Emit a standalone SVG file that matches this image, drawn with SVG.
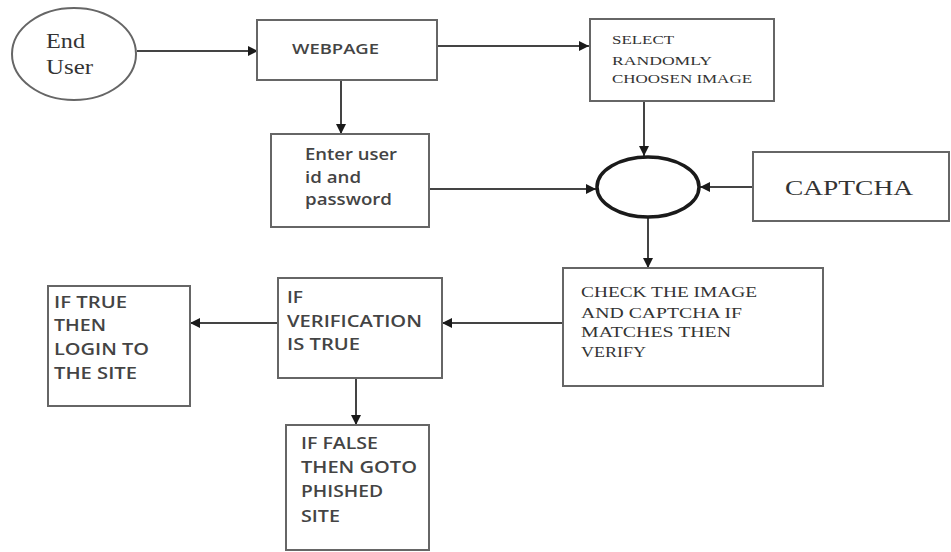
<svg xmlns="http://www.w3.org/2000/svg" width="951" height="552" viewBox="0 0 951 552">
<defs>
<marker id="ah" viewBox="0 0 10 10" refX="10" refY="5" markerWidth="10" markerHeight="10" markerUnits="userSpaceOnUse" orient="auto">
<path d="M0,0 L10,5 L0,10 z" fill="#1a1a1a"/>
</marker>
<style>
.box{fill:#fff;stroke:#666;stroke-width:2}
.conn{stroke:#444;stroke-width:2;fill:none}
.serif{font-family:"Liberation Serif","Times New Roman",serif;fill:#333}
.sans{font-family:"Open Sans","Liberation Sans",sans-serif;fill:#444;font-weight:600}
</style>
</defs>
<rect width="951" height="552" fill="#fff"/>
<g id="connectors">
<line class="conn" x1="137" y1="51" x2="258" y2="51" marker-end="url(#ah)"/>
<line class="conn" x1="437" y1="46" x2="589" y2="46" marker-end="url(#ah)"/>
<line class="conn" x1="341" y1="80" x2="341" y2="134" marker-end="url(#ah)"/>
<line class="conn" x1="644" y1="101" x2="644" y2="156" marker-end="url(#ah)"/>
<line class="conn" x1="429" y1="189" x2="596" y2="189" marker-end="url(#ah)"/>
<line class="conn" x1="753" y1="187" x2="700" y2="187" marker-end="url(#ah)"/>
<line class="conn" x1="648" y1="218" x2="648" y2="268" marker-end="url(#ah)"/>
<line class="conn" x1="563" y1="323" x2="442" y2="323" marker-end="url(#ah)"/>
<line class="conn" x1="278" y1="323" x2="190" y2="323" marker-end="url(#ah)"/>
<line class="conn" x1="356" y1="378" x2="356" y2="425" marker-end="url(#ah)"/>
</g>
<g id="end-user">
<ellipse cx="74" cy="54" rx="62" ry="46" fill="#fff" stroke="#666" stroke-width="2"/>
<text class="serif" x="46" y="48" font-size="22" textLength="39" lengthAdjust="spacingAndGlyphs">End</text>
<text class="serif" x="46" y="74" font-size="22" textLength="47" lengthAdjust="spacingAndGlyphs">User</text>
</g>
<g id="webpage">
<rect class="box" x="257" y="20" width="180" height="60"/>
<text class="sans" x="292" y="54" font-size="15" textLength="87" lengthAdjust="spacingAndGlyphs">WEBPAGE</text>
</g>
<g id="select-image">
<rect class="box" x="590" y="19" width="184" height="82"/>
<text class="serif" x="612" y="44" font-size="13" textLength="62" lengthAdjust="spacingAndGlyphs">SELECT</text>
<text class="serif" x="612" y="65" font-size="13" textLength="100" lengthAdjust="spacingAndGlyphs">RANDOMLY</text>
<text class="serif" x="612" y="83" font-size="13" textLength="140" lengthAdjust="spacingAndGlyphs">CHOOSEN IMAGE</text>
</g>
<g id="enter-user">
<rect class="box" x="271" y="134" width="158" height="93"/>
<text class="sans" x="305" y="160" font-size="16" textLength="92" lengthAdjust="spacingAndGlyphs">Enter user</text>
<text class="sans" x="305" y="183" font-size="16" textLength="56" lengthAdjust="spacingAndGlyphs">id and</text>
<text class="sans" x="305" y="205" font-size="16" textLength="87" lengthAdjust="spacingAndGlyphs">password</text>
</g>
<g id="compare">
<ellipse cx="648" cy="187" rx="51" ry="30" fill="#fff" stroke="#1a1a1a" stroke-width="3.5"/>
</g>
<g id="captcha">
<rect class="box" x="753" y="152" width="196" height="69"/>
<text class="serif" x="785" y="195" font-size="20" textLength="128" lengthAdjust="spacingAndGlyphs">CAPTCHA</text>
</g>
<g id="check">
<rect class="box" x="563" y="268" width="260" height="118"/>
<text class="serif" x="581" y="297" font-size="15" textLength="176" lengthAdjust="spacingAndGlyphs">CHECK THE IMAGE</text>
<text class="serif" x="581" y="318" font-size="15" textLength="161" lengthAdjust="spacingAndGlyphs">AND CAPTCHA IF</text>
<text class="serif" x="581" y="337" font-size="15" textLength="150" lengthAdjust="spacingAndGlyphs">MATCHES THEN</text>
<text class="serif" x="581" y="357" font-size="15" textLength="65" lengthAdjust="spacingAndGlyphs">VERIFY</text>
</g>
<g id="verification">
<rect class="box" x="278" y="278" width="164" height="100"/>
<text class="sans" x="287" y="303" font-size="17" textLength="16" lengthAdjust="spacingAndGlyphs">IF</text>
<text class="sans" x="287" y="327" font-size="17" textLength="135" lengthAdjust="spacingAndGlyphs">VERIFICATION</text>
<text class="sans" x="287" y="350" font-size="17" textLength="73" lengthAdjust="spacingAndGlyphs">IS TRUE</text>
</g>
<g id="if-true">
<rect class="box" x="48" y="286" width="142" height="120"/>
<text class="sans" x="54" y="308" font-size="17" textLength="73" lengthAdjust="spacingAndGlyphs">IF TRUE</text>
<text class="sans" x="54" y="331" font-size="17" textLength="52" lengthAdjust="spacingAndGlyphs">THEN</text>
<text class="sans" x="54" y="355" font-size="17" textLength="95" lengthAdjust="spacingAndGlyphs">LOGIN TO</text>
<text class="sans" x="54" y="379" font-size="17" textLength="83" lengthAdjust="spacingAndGlyphs">THE SITE</text>
</g>
<g id="if-false">
<rect class="box" x="286" y="425" width="143" height="125"/>
<text class="sans" x="301" y="449" font-size="17" textLength="77" lengthAdjust="spacingAndGlyphs">IF FALSE</text>
<text class="sans" x="301" y="473" font-size="17" textLength="116" lengthAdjust="spacingAndGlyphs">THEN GOTO</text>
<text class="sans" x="301" y="497" font-size="17" textLength="82" lengthAdjust="spacingAndGlyphs">PHISHED</text>
<text class="sans" x="301" y="522" font-size="17" textLength="39" lengthAdjust="spacingAndGlyphs">SITE</text>
</g>
</svg>
